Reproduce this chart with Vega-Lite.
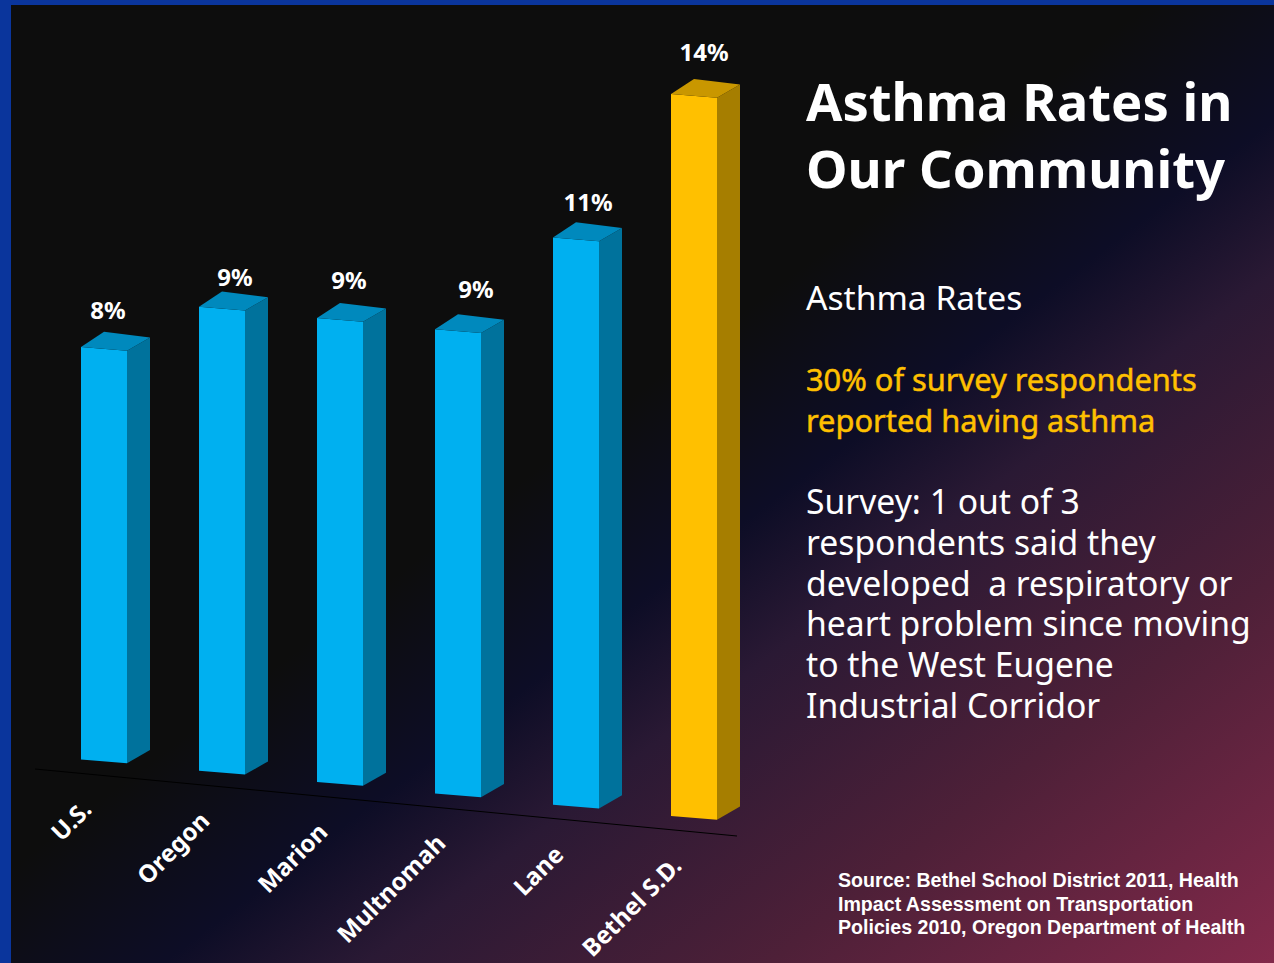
{"$schema":"https://vega.github.io/schema/vega-lite/v6.json","width":1274,"height":963,"autosize":{"type":"fit","contains":"padding"},"padding":0,"background":"#0a359c","view":{"stroke":null},
"datasets":{"faces":[
{"category":"U.S.","value":0.08,"face":"front","corner":"FL","level":8,"key":"U.S. FL"},{"category":"U.S.","value":0.08,"face":"front","corner":"FR","level":8,"key":"U.S. FR"},{"category":"U.S.","value":0.08,"face":"front","corner":"FR","level":0,"key":"U.S. FR"},{"category":"U.S.","value":0.08,"face":"front","corner":"FL","level":0,"key":"U.S. FL"},
{"category":"U.S.","value":0.08,"face":"side","corner":"FR","level":8,"key":"U.S. FR"},{"category":"U.S.","value":0.08,"face":"side","corner":"BR","level":8,"key":"U.S. BR"},{"category":"U.S.","value":0.08,"face":"side","corner":"BR","level":0,"key":"U.S. BR"},{"category":"U.S.","value":0.08,"face":"side","corner":"FR","level":0,"key":"U.S. FR"},
{"category":"U.S.","value":0.08,"face":"top","corner":"FL","level":8,"key":"U.S. FL"},{"category":"U.S.","value":0.08,"face":"top","corner":"BL","level":8,"key":"U.S. BL"},{"category":"U.S.","value":0.08,"face":"top","corner":"BR","level":8,"key":"U.S. BR"},{"category":"U.S.","value":0.08,"face":"top","corner":"FR","level":8,"key":"U.S. FR"},
{"category":"Oregon","value":0.09,"face":"front","corner":"FL","level":9,"key":"Oregon FL"},{"category":"Oregon","value":0.09,"face":"front","corner":"FR","level":9,"key":"Oregon FR"},{"category":"Oregon","value":0.09,"face":"front","corner":"FR","level":0,"key":"Oregon FR"},{"category":"Oregon","value":0.09,"face":"front","corner":"FL","level":0,"key":"Oregon FL"},
{"category":"Oregon","value":0.09,"face":"side","corner":"FR","level":9,"key":"Oregon FR"},{"category":"Oregon","value":0.09,"face":"side","corner":"BR","level":9,"key":"Oregon BR"},{"category":"Oregon","value":0.09,"face":"side","corner":"BR","level":0,"key":"Oregon BR"},{"category":"Oregon","value":0.09,"face":"side","corner":"FR","level":0,"key":"Oregon FR"},
{"category":"Oregon","value":0.09,"face":"top","corner":"FL","level":9,"key":"Oregon FL"},{"category":"Oregon","value":0.09,"face":"top","corner":"BL","level":9,"key":"Oregon BL"},{"category":"Oregon","value":0.09,"face":"top","corner":"BR","level":9,"key":"Oregon BR"},{"category":"Oregon","value":0.09,"face":"top","corner":"FR","level":9,"key":"Oregon FR"},
{"category":"Marion","value":0.09,"face":"front","corner":"FL","level":9,"key":"Marion FL"},{"category":"Marion","value":0.09,"face":"front","corner":"FR","level":9,"key":"Marion FR"},{"category":"Marion","value":0.09,"face":"front","corner":"FR","level":0,"key":"Marion FR"},{"category":"Marion","value":0.09,"face":"front","corner":"FL","level":0,"key":"Marion FL"},
{"category":"Marion","value":0.09,"face":"side","corner":"FR","level":9,"key":"Marion FR"},{"category":"Marion","value":0.09,"face":"side","corner":"BR","level":9,"key":"Marion BR"},{"category":"Marion","value":0.09,"face":"side","corner":"BR","level":0,"key":"Marion BR"},{"category":"Marion","value":0.09,"face":"side","corner":"FR","level":0,"key":"Marion FR"},
{"category":"Marion","value":0.09,"face":"top","corner":"FL","level":9,"key":"Marion FL"},{"category":"Marion","value":0.09,"face":"top","corner":"BL","level":9,"key":"Marion BL"},{"category":"Marion","value":0.09,"face":"top","corner":"BR","level":9,"key":"Marion BR"},{"category":"Marion","value":0.09,"face":"top","corner":"FR","level":9,"key":"Marion FR"},
{"category":"Multnomah","value":0.09,"face":"front","corner":"FL","level":9,"key":"Multnomah FL"},{"category":"Multnomah","value":0.09,"face":"front","corner":"FR","level":9,"key":"Multnomah FR"},{"category":"Multnomah","value":0.09,"face":"front","corner":"FR","level":0,"key":"Multnomah FR"},{"category":"Multnomah","value":0.09,"face":"front","corner":"FL","level":0,"key":"Multnomah FL"},
{"category":"Multnomah","value":0.09,"face":"side","corner":"FR","level":9,"key":"Multnomah FR"},{"category":"Multnomah","value":0.09,"face":"side","corner":"BR","level":9,"key":"Multnomah BR"},{"category":"Multnomah","value":0.09,"face":"side","corner":"BR","level":0,"key":"Multnomah BR"},{"category":"Multnomah","value":0.09,"face":"side","corner":"FR","level":0,"key":"Multnomah FR"},
{"category":"Multnomah","value":0.09,"face":"top","corner":"FL","level":9,"key":"Multnomah FL"},{"category":"Multnomah","value":0.09,"face":"top","corner":"BL","level":9,"key":"Multnomah BL"},{"category":"Multnomah","value":0.09,"face":"top","corner":"BR","level":9,"key":"Multnomah BR"},{"category":"Multnomah","value":0.09,"face":"top","corner":"FR","level":9,"key":"Multnomah FR"},
{"category":"Lane","value":0.11,"face":"front","corner":"FL","level":11,"key":"Lane FL"},{"category":"Lane","value":0.11,"face":"front","corner":"FR","level":11,"key":"Lane FR"},{"category":"Lane","value":0.11,"face":"front","corner":"FR","level":0,"key":"Lane FR"},{"category":"Lane","value":0.11,"face":"front","corner":"FL","level":0,"key":"Lane FL"},
{"category":"Lane","value":0.11,"face":"side","corner":"FR","level":11,"key":"Lane FR"},{"category":"Lane","value":0.11,"face":"side","corner":"BR","level":11,"key":"Lane BR"},{"category":"Lane","value":0.11,"face":"side","corner":"BR","level":0,"key":"Lane BR"},{"category":"Lane","value":0.11,"face":"side","corner":"FR","level":0,"key":"Lane FR"},
{"category":"Lane","value":0.11,"face":"top","corner":"FL","level":11,"key":"Lane FL"},{"category":"Lane","value":0.11,"face":"top","corner":"BL","level":11,"key":"Lane BL"},{"category":"Lane","value":0.11,"face":"top","corner":"BR","level":11,"key":"Lane BR"},{"category":"Lane","value":0.11,"face":"top","corner":"FR","level":11,"key":"Lane FR"},
{"category":"Bethel S.D.","value":0.14,"face":"front","corner":"FL","level":14,"key":"Bethel S.D. FL"},{"category":"Bethel S.D.","value":0.14,"face":"front","corner":"FR","level":14,"key":"Bethel S.D. FR"},{"category":"Bethel S.D.","value":0.14,"face":"front","corner":"FR","level":0,"key":"Bethel S.D. FR"},{"category":"Bethel S.D.","value":0.14,"face":"front","corner":"FL","level":0,"key":"Bethel S.D. FL"},
{"category":"Bethel S.D.","value":0.14,"face":"side","corner":"FR","level":14,"key":"Bethel S.D. FR"},{"category":"Bethel S.D.","value":0.14,"face":"side","corner":"BR","level":14,"key":"Bethel S.D. BR"},{"category":"Bethel S.D.","value":0.14,"face":"side","corner":"BR","level":0,"key":"Bethel S.D. BR"},{"category":"Bethel S.D.","value":0.14,"face":"side","corner":"FR","level":0,"key":"Bethel S.D. FR"},
{"category":"Bethel S.D.","value":0.14,"face":"top","corner":"FL","level":14,"key":"Bethel S.D. FL"},{"category":"Bethel S.D.","value":0.14,"face":"top","corner":"BL","level":14,"key":"Bethel S.D. BL"},{"category":"Bethel S.D.","value":0.14,"face":"top","corner":"BR","level":14,"key":"Bethel S.D. BR"},{"category":"Bethel S.D.","value":0.14,"face":"top","corner":"FR","level":14,"key":"Bethel S.D. FR"}
]},
"layer":[
{"data":{"values":[{}]},"mark":{"type":"rect","fill":{"gradient":"linear","x1":0,"y1":0,"x2":1,"y2":1,"stops":[{"offset":0,"color":"#0d0d0d"},{"offset":0.45,"color":"#0d0d0d"},{"offset":0.56,"color":"#0d0d26"},{"offset":0.64,"color":"#2a1934"},{"offset":0.8,"color":"#4e2038"},{"offset":1,"color":"#82294a"}]}},"encoding":{"x":{"value":11},"x2":{"value":1274},"y":{"value":5},"y2":{"value":963}}},
{"data":{"values":[{}]},"mark":{"type":"rule","color":"#000000","strokeWidth":1},"encoding":{"x":{"value":35},"x2":{"value":737},"y":{"value":769},"y2":{"value":836}}},
{"data":{"name":"faces"},
"encoding":{
"x":{"field":"category","type":"nominal","axis":null,"sort":null,"scale":{"type":"point","domain":["U.S.","Oregon","Marion","Multnomah","Lane","Bethel S.D."],"range":[104.5,694.5],"padding":0}},
"xOffset":{"field":"corner","type":"nominal","scale":{"type":"point","domain":["FL","BL","FR","BR"],"range":[-23.5,45.5],"padding":0}},
"y":{"field":"level","type":"nominal","axis":null,"sort":null,"scale":{"type":"point","domain":[0,1,2,3,4,5,6,7,8,9,10,11,12,13,14],"range":[759.5,37.5],"padding":0}},
"yOffset":{"field":"key","type":"nominal","scale":{"type":"point","padding":0,"range":[-15.07,60.27],"domain":["U.S. BL","s1","s2","U.S. BR","s3","s4","Oregon BL","s5","U.S. FL","Oregon BR","U.S. FR","s6","Marion BL","s7","Oregon FL","Marion BR","Oregon FR","s8","Multnomah BL","s9","Marion FL","Multnomah BR","Marion FR","s10","Lane BL","s11","Multnomah FL","Lane BR","Multnomah FR","s12","Bethel S.D. BL","s13","Lane FL","Bethel S.D. BR","Lane FR","s14","s15","s16","Bethel S.D. FL","s17","Bethel S.D. FR"]}}
},
"layer":[
{"transform":[{"filter":{"field":"face","equal":"front"}}],"mark":{"type":"line","interpolate":"linear-closed","strokeWidth":0},"encoding":{"detail":{"field":"category"},"order":{"value":null},"fill":{"field":"category","type":"nominal","legend":null,"scale":{"domain":["U.S.","Oregon","Marion","Multnomah","Lane","Bethel S.D."],"range":["#00b0f0","#00b0f0","#00b0f0","#00b0f0","#00b0f0","#ffc000"]}}}},
{"transform":[{"filter":{"field":"face","equal":"side"}},{"filter":"datum.category!=='Bethel S.D.'"}],"mark":{"type":"line","interpolate":"linear-closed","strokeWidth":0,"fill":"#00729c"},"encoding":{"detail":{"field":"category"},"order":{"value":null}}},
{"transform":[{"filter":{"field":"face","equal":"side"}},{"filter":"datum.category==='Bethel S.D.'"}],"mark":{"type":"line","interpolate":"linear-closed","strokeWidth":0,"fill":"#a67e00"},"encoding":{"detail":{"field":"category"},"order":{"value":null}}},
{"transform":[{"filter":{"field":"face","equal":"top"}},{"filter":"datum.category!=='Bethel S.D.'"}],"mark":{"type":"line","interpolate":"linear-closed","strokeWidth":0,"fill":"#0089bd"},"encoding":{"detail":{"field":"category"},"order":{"value":null}}},
{"transform":[{"filter":{"field":"face","equal":"top"}},{"filter":"datum.category==='Bethel S.D.'"}],"mark":{"type":"line","interpolate":"linear-closed","strokeWidth":0,"fill":"#c99700"},"encoding":{"detail":{"field":"category"},"order":{"value":null}}},
{"transform":[{"filter":"datum.face==='front'&&datum.corner==='FL'&&datum.level===0"}],"mark":{"type":"text","angle":315,"align":"right","baseline":"middle","dx":-27.8,"dy":38,"font":"Noto Sans","fontWeight":"bold","fontSize":24.2,"color":"#ffffff"},"encoding":{"text":{"field":"category"}}},
{"transform":[{"filter":"datum.face==='top'&&datum.corner==='FL'&&datum.category==='U.S.'"}],"mark":{"type":"text","dx":27,"dy":-35,"font":"Noto Sans","fontWeight":"bold","fontSize":24,"color":"#ffffff"},"encoding":{"text":{"field":"value","type":"quantitative","format":".0%"}}},
{"transform":[{"filter":"datum.face==='top'&&datum.corner==='FL'&&datum.category==='Oregon'"}],"mark":{"type":"text","dx":36,"dy":-28,"font":"Noto Sans","fontWeight":"bold","fontSize":24,"color":"#ffffff"},"encoding":{"text":{"field":"value","type":"quantitative","format":".0%"}}},
{"transform":[{"filter":"datum.face==='top'&&datum.corner==='FL'&&datum.category==='Marion'"}],"mark":{"type":"text","dx":32,"dy":-36,"font":"Noto Sans","fontWeight":"bold","fontSize":24,"color":"#ffffff"},"encoding":{"text":{"field":"value","type":"quantitative","format":".0%"}}},
{"transform":[{"filter":"datum.face==='top'&&datum.corner==='FL'&&datum.category==='Multnomah'"}],"mark":{"type":"text","dx":41,"dy":-38,"font":"Noto Sans","fontWeight":"bold","fontSize":24,"color":"#ffffff"},"encoding":{"text":{"field":"value","type":"quantitative","format":".0%"}}},
{"transform":[{"filter":"datum.face==='top'&&datum.corner==='FL'&&datum.category==='Lane'"}],"mark":{"type":"text","dx":35,"dy":-33,"font":"Noto Sans","fontWeight":"bold","fontSize":24,"color":"#ffffff"},"encoding":{"text":{"field":"value","type":"quantitative","format":".0%"}}},
{"transform":[{"filter":"datum.face==='top'&&datum.corner==='FL'&&datum.category==='Bethel S.D.'"}],"mark":{"type":"text","dx":33,"dy":-40,"font":"Noto Sans","fontWeight":"bold","fontSize":24,"color":"#ffffff"},"encoding":{"text":{"field":"value","type":"quantitative","format":".0%"}}}
]},
{"data":{"values":[{"t":"Asthma Rates in\nOur Community"}]},"mark":{"type":"text","align":"left","baseline":"alphabetic","lineBreak":"\n","lineHeight":67,"font":"Noto Sans","fontWeight":"bold","fontSize":52.6,"color":"#ffffff"},"encoding":{"x":{"value":806},"y":{"value":121},"text":{"field":"t"}}},
{"data":{"values":[{"t":"Asthma Rates"}]},"mark":{"type":"text","align":"left","baseline":"alphabetic","font":"Noto Sans","fontSize":33.6,"color":"#ffffff"},"encoding":{"x":{"value":806},"y":{"value":310},"text":{"field":"t"}}},
{"data":{"values":[{"t":"30% of survey respondents\nreported having asthma"}]},"mark":{"type":"text","align":"left","baseline":"alphabetic","lineBreak":"\n","lineHeight":41,"font":"Noto Sans","fontSize":30.8,"color":"#ffc000","stroke":"#ffc000","strokeWidth":0.5},"encoding":{"x":{"value":806},"y":{"value":391},"text":{"field":"t"}}},
{"data":{"values":[{"t":"Survey: 1 out of 3\nrespondents said they\ndeveloped\u00a0 a respiratory or\nheart problem since moving\nto the West Eugene\nIndustrial Corridor"}]},"mark":{"type":"text","align":"left","baseline":"alphabetic","lineBreak":"\n","lineHeight":40.8,"font":"Noto Sans","fontSize":33.7,"color":"#ffffff"},"encoding":{"x":{"value":806},"y":{"value":514},"text":{"field":"t"}}},
{"data":{"values":[{"t":"Source: Bethel School District 2011, Health\nImpact Assessment on Transportation\nPolicies 2010, Oregon Department of Health"}]},"mark":{"type":"text","align":"left","baseline":"alphabetic","lineBreak":"\n","lineHeight":23.5,"font":"Liberation Sans","fontWeight":"bold","fontSize":19.6,"color":"#ffffff"},"encoding":{"x":{"value":838},"y":{"value":887},"text":{"field":"t"}}}
]}
